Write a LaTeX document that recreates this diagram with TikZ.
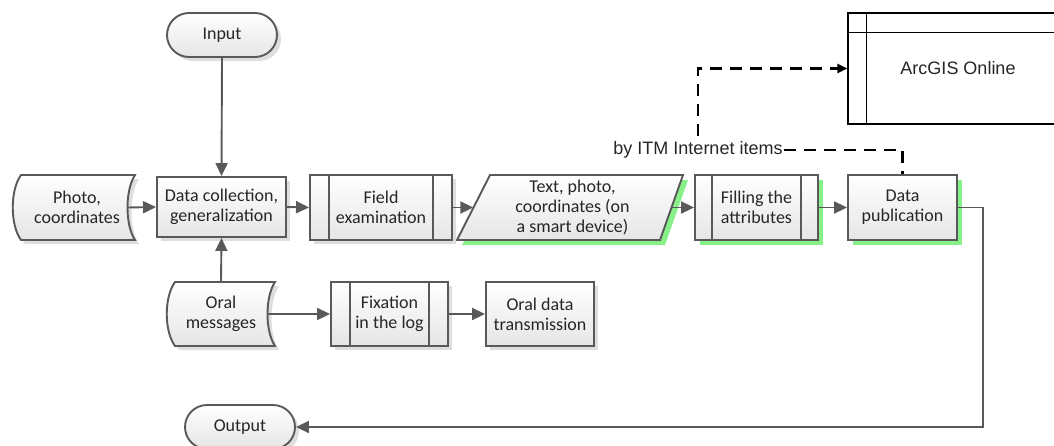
\documentclass[tikz,border=0pt]{standalone}
\usepackage{fontspec}
\setmainfont{Carlito}
\newfontfamily\arialf{Liberation Sans}
\usetikzlibrary{arrows.meta,shadows,calc}
\definecolor{ln}{HTML}{595959}
\definecolor{tx}{HTML}{262626}
\definecolor{gsh}{HTML}{88F088}
\begin{document}
\begin{tikzpicture}[x=1pt,y=-1pt,
  every node/.style={text=tx, font=\fontsize{18}{20}\selectfont, align=center, inner sep=0pt},
  base/.style={draw=ln, line width=1.9pt, top color=white, bottom color=black!10},
  gshad/.style={drop shadow={shadow xshift=4pt,shadow yshift=-4pt,fill=black!13,opacity=1}},
  greensh/.style={drop shadow={shadow xshift=5pt,shadow yshift=-5pt,fill=gsh,opacity=1}},
  terminal/.style={base, gshad, rounded corners=22pt, minimum width=110pt, minimum height=44pt},
  procbox/.style={base, gshad, rectangle},
  sub/.style={draw=ln, line width=1.9pt},
  conn/.style={draw=ln, line width=1.9pt, -{Triangle[length=13pt,width=12pt]}},
  dsh/.style={draw=black, line width=2.1pt, dash pattern=on 12pt off 8pt},
  lbl/.style={font=\arialf\fontsize{18}{21}\selectfont, text=black!85}
]
\useasboundingbox (0,0) rectangle (1054,445);

% ---- shaped backgrounds (stored data, data)
\fill[black!13] (25,179) -- (139,179) .. controls (129,194) and (129,229) .. (139,244) -- (25,244) .. controls (14,229) and (14,194) .. (25,179) -- cycle;
\path[base] (21,175) -- (135,175) .. controls (125,190) and (125,225) .. (135,240) -- (21,240) .. controls (10,225) and (10,190) .. (21,175) -- cycle;

\fill[black!13] (179,286) -- (279,286) .. controls (269,301) and (269,335) .. (279,350) -- (179,350) .. controls (168,335) and (168,301) .. (179,286) -- cycle;
\path[base] (175,282) -- (275,282) .. controls (265,297) and (265,331) .. (275,346) -- (175,346) .. controls (164,331) and (164,297) .. (175,282) -- cycle;

\fill[gsh] (495,180) -- (688,180) -- (665,245) -- (462,245) -- cycle;
\path[base] (490,175) -- (683,175) -- (660,240) -- (457,240) -- cycle;

% ---- nodes
\node[terminal] (input) at (222,35) {Input};
\node[minimum width=100pt, minimum height=65pt] (photo) at (77,207.5) {Photo,\\coordinates};
\node[procbox, minimum width=129pt, minimum height=60pt] (coll) at (221.5,207) {Data collection,\\generalization};
\node[procbox, minimum width=142pt, minimum height=65pt] (field) at (381,207.5) {Field\\examination};
\node[minimum width=198pt, minimum height=65pt] (para) at (572.5,207.5) {Text, photo,\\coordinates (on\\a smart device)};
\node[base, greensh, minimum width=123pt, minimum height=65pt] (fill) at (756.5,207.5) {Filling the\\attributes};
\node[base, greensh, minimum width=109pt, minimum height=65pt] (pub) at (902.5,207.5) {Data\\publication};
\node[minimum width=94pt, minimum height=64pt] (oral) at (221,314) {Oral\\messages};
\node[procbox, minimum width=117pt, minimum height=64pt] (fix) at (389.5,314) {Fixation\\in the log};
\node[procbox, minimum width=108pt, minimum height=64pt] (oraltx) at (540,314) {Oral data\\transmission};
\node[terminal] (output) at (240,427) {Output};
\node[draw=black, line width=1.2pt, fill=white, minimum width=220pt, minimum height=111pt] (arc) at (958,68.5) {\arialf ArcGIS Online};
\node[lbl, inner xsep=1pt, inner ysep=5pt] (itm) at (698,150) {by ITM Internet items};

% ---- subroutine inner lines
\foreach \n/\d in {field/20, fill/18, fix/20}{
  \draw[sub] ([xshift=\d pt]\n.north west) -- ([xshift=\d pt]\n.south west);
  \draw[sub] ([xshift=-\d pt]\n.north east) -- ([xshift=-\d pt]\n.south east);
}
\draw[black, line width=1.2pt] ([xshift=19pt]arc.north west) -- ([xshift=19pt]arc.south west);
\draw[black, line width=1.2pt] ([yshift=-20pt]arc.north west) -- ([yshift=-20pt]arc.north east);

% ---- connectors
\draw[conn] (input.south) -- (coll.north);
\draw[conn] (photo.east) -- (coll.west);
\draw[conn] (coll.east) -- (field.west);
\draw[conn] (field.east) -- (para.west);
\draw[conn] (para.east) -- (fill.west);
\draw[conn] (fill.east) -- (pub.west);
\draw[conn] (oral.north) -- (coll.south);
\draw[conn] (oral.east) -- (fix.west);
\draw[conn] (fix.east) -- (oraltx.west);
\draw[conn] (pub.east) -- ++(25,0) |- (output.east);

\draw[dsh] (itm.east) -| (pub.north);
\draw[dsh, -{Triangle[length=10pt,width=9pt]}] (itm.north) |- (arc.west);
\end{tikzpicture}
\end{document}
